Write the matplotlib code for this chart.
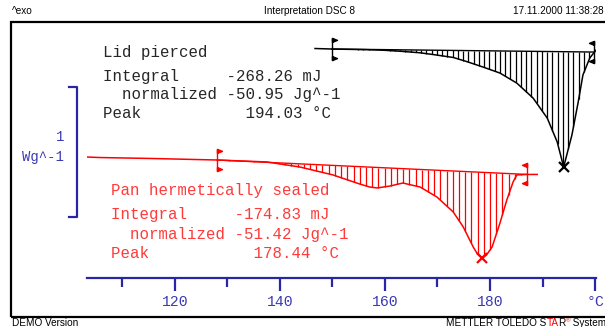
import numpy as np
import matplotlib
matplotlib.use("Agg")
import matplotlib.pyplot as plt
from matplotlib.patches import Rectangle
from matplotlib.lines import Line2D
from matplotlib.path import Path

# ---------------- data ----------------
red_T = [103.24, 105.7, 115.2, 128.0, 137.5, 143.8, 150.1, 155.2, 157.1, 158.5, 161.0,
         163.4, 166.7, 169.9, 173.0, 174.9, 176.8, 177.6, 178.44, 179.3, 180.4, 181.9,
         183.2, 184.4, 185.1, 187.0, 189.0]
red_W = [-0.054, -0.058, -0.065, -0.077, -0.092, -0.131, -0.192, -0.262, -0.285, -0.292, -0.277,
         -0.254, -0.285, -0.362, -0.477, -0.592, -0.746, -0.80, -0.831, -0.81, -0.746, -0.562,
         -0.385, -0.246, -0.192, -0.188, -0.188]
red_limits = [128.0, 187.1]
red_peak = 178.44
red_integral = -174.83
red_normalized = -51.42

black_T = [146.67, 149.9, 156.6, 159.6, 162.9, 166.7, 169.1, 173.0, 175.6, 178.7, 181.9,
           185.1, 188.2, 190.9, 192.8, 194.03, 195.6, 196.8, 197.7, 199.0, 200.2, 200.6]
black_W = [0.781, 0.777, 0.772, 0.768, 0.760, 0.748, 0.735, 0.712, 0.680, 0.638, 0.592,
           0.515, 0.400, 0.246, 0.062, -0.131, 0.115, 0.369, 0.577, 0.708, 0.769, 0.770]
black_limits = [149.9, 199.9]
black_peak = 194.03
black_integral = -268.26
black_normalized = -50.95

x_ticks_major = [120, 140, 160, 180, 200]
x_tick_labels = ["120", "140", "160", "180", "°C"]
x_ticks_minor = [110, 130, 150, 170, 190]

# ---------------- figure ----------------
W, H = 605, 327
fig = plt.figure(figsize=(W / 100, H / 100), dpi=100)

def fx(x):
    return x / W

def fy(y):
    return 1 - y / H

ax = fig.add_axes([fx(87), fy(278), fx(596) - fx(87), (278 - 22) / H])
ax.set_xlim(103.24, 200.19)
ax.set_ylim(-0.985, 0.985)

blue = "#2626a6"
red = "#ff0000"
red_txt = "#ff3a3a"
mono = "Liberation Mono"

for s in ["top", "left", "right"]:
    ax.spines[s].set_visible(False)
ax.spines["bottom"].set_color(blue)
ax.spines["bottom"].set_linewidth(1.6)
ax.set_yticks([])
ax.set_xticks(x_ticks_major)
ax.set_xticklabels(x_tick_labels, family=mono, fontsize=10.6, color="#3a3ab4")
ax.set_xticks(x_ticks_minor, minor=True)
ax.tick_params(axis="x", which="major", direction="out", length=9, width=1.6, color=blue, pad=3)
ax.tick_params(axis="x", which="minor", direction="out", length=6.5, width=1.6, color=blue)
ax.patch.set_alpha(0)


def limit_marker(side):
    s = 1 if side == "left" else -1
    verts = [(0, 1), (0.45 * s, 0.82), (0, 0.64), (0, 1),
             (0, 1), (0, -1), (0, 1),
             (0, -0.64), (0.45 * s, -0.82), (0, -1), (0, -0.64)]
    codes = [Path.MOVETO, Path.LINETO, Path.LINETO, Path.CLOSEPOLY,
             Path.MOVETO, Path.LINETO, Path.CLOSEPOLY,
             Path.MOVETO, Path.LINETO, Path.LINETO, Path.CLOSEPOLY]
    return Path(verts, codes)


def draw_peak(T, Wv, limits, peak, color):
    T = np.asarray(T)
    Wv = np.asarray(Wv)
    ax.plot(T, Wv, color=color, lw=1.1, solid_joinstyle="miter", zorder=3)
    y0 = np.interp(limits[0], T, Wv)
    y1 = np.interp(limits[1], T, Wv)
    ax.plot(limits, [y0, y1], color=color, lw=1.0, zorder=3)
    xs = np.linspace(limits[0], limits[1], 51)
    base = y0 + (xs - limits[0]) * (y1 - y0) / (limits[1] - limits[0])
    curve = np.interp(xs, T, Wv)
    ax.vlines(xs, curve, base, color=color, lw=0.9, zorder=2)
    ax.plot([limits[0]], [y0], marker=limit_marker("left"), markersize=16, color=color,
            mec=color, mew=1.0, zorder=4)
    ax.plot([limits[1]], [y1], marker=limit_marker("right"), markersize=16, color=color,
            mec=color, mew=1.0, zorder=4)
    ax.plot([peak], [np.interp(peak, T, Wv)], marker="x", markersize=7, mew=1.6,
            color=color, zorder=5)


draw_peak(black_T, black_W, black_limits, black_peak, "black")
draw_peak(red_T, red_W, red_limits, red_peak, red)

# scale bar (1 W/g = 130 px at this scale)
bar_len = 1.0
bx = fx(77)
fig.add_artist(Line2D([fx(69), bx, bx, fx(69)],
                      [fy(87), fy(87), fy(87 + 130 * bar_len), fy(87 + 130 * bar_len)],
                      color=blue, lw=1.6))
fig.text(fx(64), fy(137), "1", family=mono, fontsize=10, color="#3a3ab4", ha="right", va="center")
fig.text(fx(64), fy(157), "Wg^-1", family=mono, fontsize=10, color="#3a3ab4", ha="right", va="center")

# annotation texts
fs = 11.3
black_lines = ["Lid pierced",
               f"Integral     {black_integral:.2f} mJ",
               f"  normalized {black_normalized:.2f} Jg^-1",
               f"Peak           {black_peak:.2f} °C"]
for txt, yy in zip(black_lines, [52.7, 76.7, 94.5, 114]):
    fig.text(fx(103), fy(yy), txt, family=mono, fontsize=fs, color="#262626", ha="left", va="center")

red_lines = ["Pan hermetically sealed",
             f"Integral     {red_integral:.2f} mJ",
             f"  normalized {red_normalized:.2f} Jg^-1",
             f"Peak           {red_peak:.2f} °C"]
for txt, yy in zip(red_lines, [190, 214, 234.5, 253]):
    fig.text(fx(111), fy(yy), txt, family=mono, fontsize=fs, color=red_txt, ha="left", va="center")

# frame
fig.add_artist(Rectangle((fx(11.5), fy(317)), fx(640) - fx(11.5), fy(22) - fy(317),
                         fill=False, ec="black", lw=1.6, transform=fig.transFigure))

# header / footer
sans = "Liberation Sans"
fig.text(fx(12), fy(11), "^exo", family=sans, fontsize=7.2, ha="left", va="center")
fig.text(fx(309), fy(11), "Interpretation DSC 8", family=sans, fontsize=7.2, ha="center", va="center")
fig.text(fx(604), fy(11), "17.11.2000 11:38:28", family=sans, fontsize=7.2, ha="right", va="center")
fig.text(fx(12), fy(323), "DEMO Version", family=sans, fontsize=7.2, ha="left", va="center")

t = fig.text(fx(446), fy(323), "METTLER TOLEDO S", family=sans, fontsize=7.2, ha="left", va="center")
t = ax.annotate("TA", xy=(1, 0), xycoords=t, va="bottom", ha="left", family=sans, fontsize=7.2,
                color=red, annotation_clip=False)
t = ax.annotate("R", xy=(1, 0), xycoords=t, va="bottom", ha="left", family=sans, fontsize=7.2,
                annotation_clip=False)
ax.annotate("®", xy=(1, 0.45), xycoords=t, va="bottom", ha="left", family=sans, fontsize=4.5,
            color=red, annotation_clip=False)
ax.annotate(" System", xy=(1, 0), xycoords=t, va="bottom", ha="left", family=sans, fontsize=7.2,
            xytext=(3.0, 0), textcoords="offset points", annotation_clip=False)

fig.savefig("out.png", dpi=100)
